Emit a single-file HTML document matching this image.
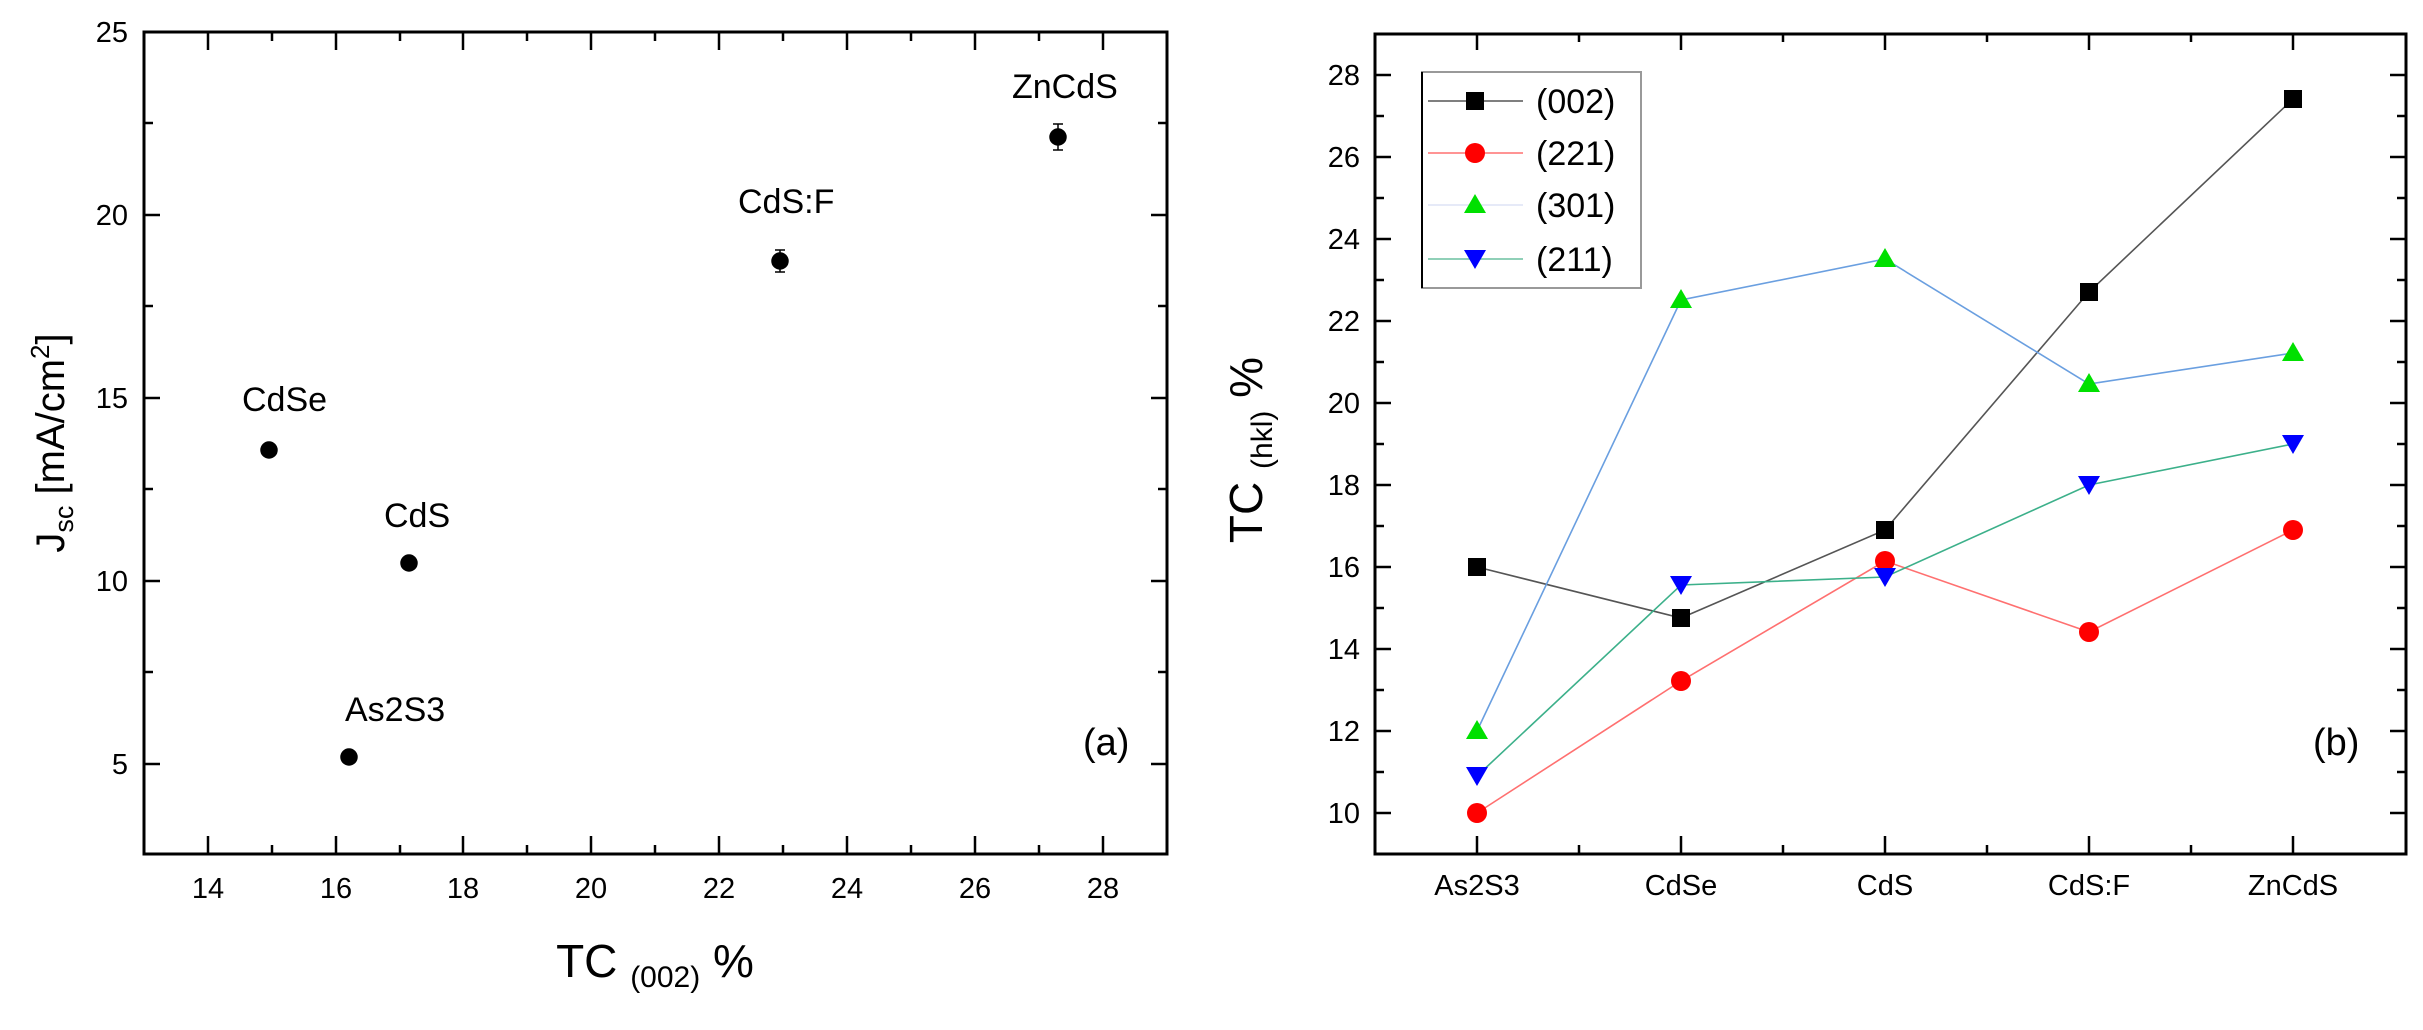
<!DOCTYPE html>
<html><head><meta charset="utf-8"><style>
html,body{margin:0;padding:0;background:#fff;}
svg{display:block;font-family:"Liberation Sans",Arial,sans-serif;}
</style></head><body>
<svg width="2423" height="1030" viewBox="0 0 2423 1030" xmlns="http://www.w3.org/2000/svg">
<!-- Panel a -->
<g stroke="#000" stroke-width="3" fill="none">
<rect x="144" y="32" width="1023" height="822"/>
</g>
<g stroke="#000" stroke-width="2.5">
<!-- x ticks: x=144+(v-13)*63.94 -->
<line x1="208" y1="854" x2="208" y2="836"/><line x1="272" y1="854" x2="272" y2="845"/>
<line x1="336" y1="854" x2="336" y2="836"/><line x1="400" y1="854" x2="400" y2="845"/>
<line x1="463" y1="854" x2="463" y2="836"/><line x1="527" y1="854" x2="527" y2="845"/>
<line x1="591" y1="854" x2="591" y2="836"/><line x1="655" y1="854" x2="655" y2="845"/>
<line x1="719" y1="854" x2="719" y2="836"/><line x1="783" y1="854" x2="783" y2="845"/>
<line x1="847" y1="854" x2="847" y2="836"/><line x1="911" y1="854" x2="911" y2="845"/>
<line x1="975" y1="854" x2="975" y2="836"/><line x1="1039" y1="854" x2="1039" y2="845"/>
<line x1="1103" y1="854" x2="1103" y2="836"/>
<line x1="208" y1="32" x2="208" y2="50"/><line x1="272" y1="32" x2="272" y2="41"/>
<line x1="336" y1="32" x2="336" y2="50"/><line x1="400" y1="32" x2="400" y2="41"/>
<line x1="463" y1="32" x2="463" y2="50"/><line x1="527" y1="32" x2="527" y2="41"/>
<line x1="591" y1="32" x2="591" y2="50"/><line x1="655" y1="32" x2="655" y2="41"/>
<line x1="719" y1="32" x2="719" y2="50"/><line x1="783" y1="32" x2="783" y2="41"/>
<line x1="847" y1="32" x2="847" y2="50"/><line x1="911" y1="32" x2="911" y2="41"/>
<line x1="975" y1="32" x2="975" y2="50"/><line x1="1039" y1="32" x2="1039" y2="41"/>
<line x1="1103" y1="32" x2="1103" y2="50"/>
<!-- y ticks: y=32+(25-v)*36.6 -->
<line x1="144" y1="32" x2="160" y2="32"/><line x1="144" y1="123" x2="153" y2="123"/>
<line x1="144" y1="215" x2="160" y2="215"/><line x1="144" y1="306" x2="153" y2="306"/>
<line x1="144" y1="398" x2="160" y2="398"/><line x1="144" y1="489" x2="153" y2="489"/>
<line x1="144" y1="581" x2="160" y2="581"/><line x1="144" y1="672" x2="153" y2="672"/>
<line x1="144" y1="764" x2="160" y2="764"/>
<line x1="1167" y1="123" x2="1158" y2="123"/><line x1="1167" y1="215" x2="1151" y2="215"/>
<line x1="1167" y1="306" x2="1158" y2="306"/><line x1="1167" y1="398" x2="1151" y2="398"/>
<line x1="1167" y1="489" x2="1158" y2="489"/><line x1="1167" y1="581" x2="1151" y2="581"/>
<line x1="1167" y1="672" x2="1158" y2="672"/><line x1="1167" y1="764" x2="1151" y2="764"/>
</g>
<g font-size="29" fill="#000" text-anchor="end">
<text x="128" y="42">25</text><text x="128" y="225">20</text><text x="128" y="408">15</text>
<text x="128" y="591">10</text><text x="128" y="774">5</text>
</g>
<g font-size="29" fill="#000" text-anchor="middle">
<text x="208" y="898">14</text><text x="336" y="898">16</text><text x="463" y="898">18</text>
<text x="591" y="898">20</text><text x="719" y="898">22</text><text x="847" y="898">24</text>
<text x="975" y="898">26</text><text x="1103" y="898">28</text>
</g>
<text x="655" y="977" font-size="46" text-anchor="middle">TC <tspan font-size="30" dy="10">(002)</tspan><tspan dy="-10"> %</tspan></text>
<text transform="translate(64,443) rotate(-90)" font-size="40" text-anchor="middle">J<tspan font-size="27" dy="9">sc</tspan><tspan dy="-9"> [mA/cm</tspan><tspan font-size="26" dy="-15">2</tspan><tspan dy="15">]</tspan></text>
<!-- points -->
<g fill="#000" stroke="#000" stroke-width="1.5">
<circle cx="269" cy="450" r="8"/>
<circle cx="409" cy="563" r="8"/>
<circle cx="349" cy="757" r="8"/>
<line x1="780" y1="250" x2="780" y2="272"/><line x1="775" y1="250" x2="785" y2="250"/><line x1="775" y1="272" x2="785" y2="272"/>
<circle cx="780" cy="261" r="8"/>
<line x1="1058" y1="124" x2="1058" y2="150"/><line x1="1053" y1="124" x2="1063" y2="124"/><line x1="1053" y1="150" x2="1063" y2="150"/>
<circle cx="1058" cy="137" r="8"/>
</g>
<g font-size="34" fill="#000">
<text x="242" y="411">CdSe</text>
<text x="384" y="527">CdS</text>
<text x="345" y="721">As2S3</text>
<text x="738" y="213">CdS:F</text>
<text x="1012" y="98">ZnCdS</text>
<text x="1083" y="755" font-size="38">(a)</text>
</g>

<!-- Panel b -->
<rect x="1375" y="34" width="1031" height="820" fill="none" stroke="#000" stroke-width="3"/>
<g stroke="#000" stroke-width="2.5">
<!-- y=75+(28-v)*41 -->
<line x1="1375" y1="75" x2="1391" y2="75"/><line x1="1375" y1="116" x2="1384" y2="116"/>
<line x1="1375" y1="157" x2="1391" y2="157"/><line x1="1375" y1="198" x2="1384" y2="198"/>
<line x1="1375" y1="239" x2="1391" y2="239"/><line x1="1375" y1="280" x2="1384" y2="280"/>
<line x1="1375" y1="321" x2="1391" y2="321"/><line x1="1375" y1="362" x2="1384" y2="362"/>
<line x1="1375" y1="403" x2="1391" y2="403"/><line x1="1375" y1="444" x2="1384" y2="444"/>
<line x1="1375" y1="485" x2="1391" y2="485"/><line x1="1375" y1="526" x2="1384" y2="526"/>
<line x1="1375" y1="567" x2="1391" y2="567"/><line x1="1375" y1="608" x2="1384" y2="608"/>
<line x1="1375" y1="649" x2="1391" y2="649"/><line x1="1375" y1="690" x2="1384" y2="690"/>
<line x1="1375" y1="731" x2="1391" y2="731"/><line x1="1375" y1="772" x2="1384" y2="772"/>
<line x1="1375" y1="813" x2="1391" y2="813"/>
<line x1="2406" y1="75" x2="2390" y2="75"/><line x1="2406" y1="116" x2="2397" y2="116"/>
<line x1="2406" y1="157" x2="2390" y2="157"/><line x1="2406" y1="198" x2="2397" y2="198"/>
<line x1="2406" y1="239" x2="2390" y2="239"/><line x1="2406" y1="280" x2="2397" y2="280"/>
<line x1="2406" y1="321" x2="2390" y2="321"/><line x1="2406" y1="362" x2="2397" y2="362"/>
<line x1="2406" y1="403" x2="2390" y2="403"/><line x1="2406" y1="444" x2="2397" y2="444"/>
<line x1="2406" y1="485" x2="2390" y2="485"/><line x1="2406" y1="526" x2="2397" y2="526"/>
<line x1="2406" y1="567" x2="2390" y2="567"/><line x1="2406" y1="608" x2="2397" y2="608"/>
<line x1="2406" y1="649" x2="2390" y2="649"/><line x1="2406" y1="690" x2="2397" y2="690"/>
<line x1="2406" y1="731" x2="2390" y2="731"/><line x1="2406" y1="772" x2="2397" y2="772"/>
<line x1="2406" y1="813" x2="2390" y2="813"/>
<line x1="1477" y1="854" x2="1477" y2="836"/><line x1="1579" y1="854" x2="1579" y2="845"/>
<line x1="1681" y1="854" x2="1681" y2="836"/><line x1="1783" y1="854" x2="1783" y2="845"/>
<line x1="1885" y1="854" x2="1885" y2="836"/><line x1="1987" y1="854" x2="1987" y2="845"/>
<line x1="2089" y1="854" x2="2089" y2="836"/><line x1="2191" y1="854" x2="2191" y2="845"/>
<line x1="2293" y1="854" x2="2293" y2="836"/>
<line x1="1477" y1="34" x2="1477" y2="50"/><line x1="1579" y1="34" x2="1579" y2="42"/>
<line x1="1681" y1="34" x2="1681" y2="50"/><line x1="1783" y1="34" x2="1783" y2="42"/>
<line x1="1885" y1="34" x2="1885" y2="50"/><line x1="1987" y1="34" x2="1987" y2="42"/>
<line x1="2089" y1="34" x2="2089" y2="50"/><line x1="2191" y1="34" x2="2191" y2="42"/>
<line x1="2293" y1="34" x2="2293" y2="50"/>
</g>
<g font-size="29" fill="#000" text-anchor="end">
<text x="1360" y="85">28</text><text x="1360" y="167">26</text><text x="1360" y="249">24</text>
<text x="1360" y="331">22</text><text x="1360" y="413">20</text><text x="1360" y="495">18</text>
<text x="1360" y="577">16</text><text x="1360" y="659">14</text><text x="1360" y="741">12</text>
<text x="1360" y="823">10</text>
</g>
<g font-size="29" fill="#000" text-anchor="middle">
<text x="1477" y="895">As2S3</text><text x="1681" y="895">CdSe</text><text x="1885" y="895">CdS</text>
<text x="2089" y="895">CdS:F</text><text x="2293" y="895">ZnCdS</text>
</g>
<text transform="translate(1262,450) rotate(-90)" font-size="46" text-anchor="middle">TC <tspan font-size="30" dy="10">(hkl)</tspan><tspan dy="-10"> %</tspan></text>
<text x="2313" y="755" font-size="38">(b)</text>
<!-- lines -->
<g fill="none" stroke-width="1.6">
<polyline stroke="#555" points="1477,567 1681,618 1885,530 2089,292 2293,99"/>
<polyline stroke="#ff7070" points="1477,813 1681,681 1885,561 2089,632 2293,530"/>
<polyline stroke="#6a9fe0" points="1477,731 1681,300 1885,259 2089,384 2293,353"/>
<polyline stroke="#3cb08a" points="1477,776 1681,585 1885,577 2089,485 2293,444"/>
</g>
<!-- markers -->
<g fill="#000">
<rect x="1468" y="558" width="18" height="18"/><rect x="1672" y="609" width="18" height="18"/>
<rect x="1876" y="521" width="18" height="18"/><rect x="2080" y="283" width="18" height="18"/>
<rect x="2284" y="90" width="18" height="18"/>
</g>
<g fill="#ff0000">
<circle cx="1477" cy="813" r="10"/><circle cx="1681" cy="681" r="10"/><circle cx="1885" cy="561" r="10"/>
<circle cx="2089" cy="632" r="10"/><circle cx="2293" cy="530" r="10"/>
</g>
<g fill="#00e000">
<polygon points="1477,720 1466,739 1488,739"/><polygon points="1681,289 1670,308 1692,308"/>
<polygon points="1885,248 1874,267 1896,267"/><polygon points="2089,373 2078,392 2100,392"/>
<polygon points="2293,342 2282,361 2304,361"/>
</g>
<g fill="#0000ff">
<polygon points="1466,767 1488,767 1477,786"/><polygon points="1670,576 1692,576 1681,595"/>
<polygon points="1874,568 1896,568 1885,587"/><polygon points="2078,476 2100,476 2089,495"/>
<polygon points="2282,435 2304,435 2293,454"/>
</g>
<!-- legend -->
<rect x="1422" y="72" width="219" height="216" fill="#fff" stroke="#999" stroke-width="2"/>
<line x1="1422" y1="72" x2="1422" y2="288" stroke="#000" stroke-width="2"/>
<g stroke-width="1.6">
<line x1="1428" y1="101" x2="1523" y2="101" stroke="#555"/>
<line x1="1428" y1="153" x2="1523" y2="153" stroke="#ff7070"/>
<line x1="1428" y1="205" x2="1523" y2="205" stroke="#dde4f5"/>
<line x1="1428" y1="259" x2="1523" y2="259" stroke="#6cc0a0"/>
</g>
<rect x="1466" y="92" width="18" height="18" fill="#000"/>
<circle cx="1475" cy="153" r="10" fill="#ff0000"/>
<polygon points="1475,194 1464,213 1486,213" fill="#00e000"/>
<polygon points="1464,250 1486,250 1475,269" fill="#0000ff"/>
<g font-size="34" fill="#000">
<text x="1536" y="113">(002)</text><text x="1536" y="165">(221)</text>
<text x="1536" y="217">(301)</text><text x="1536" y="271">(211)</text>
</g>
</svg>
</body></html>
